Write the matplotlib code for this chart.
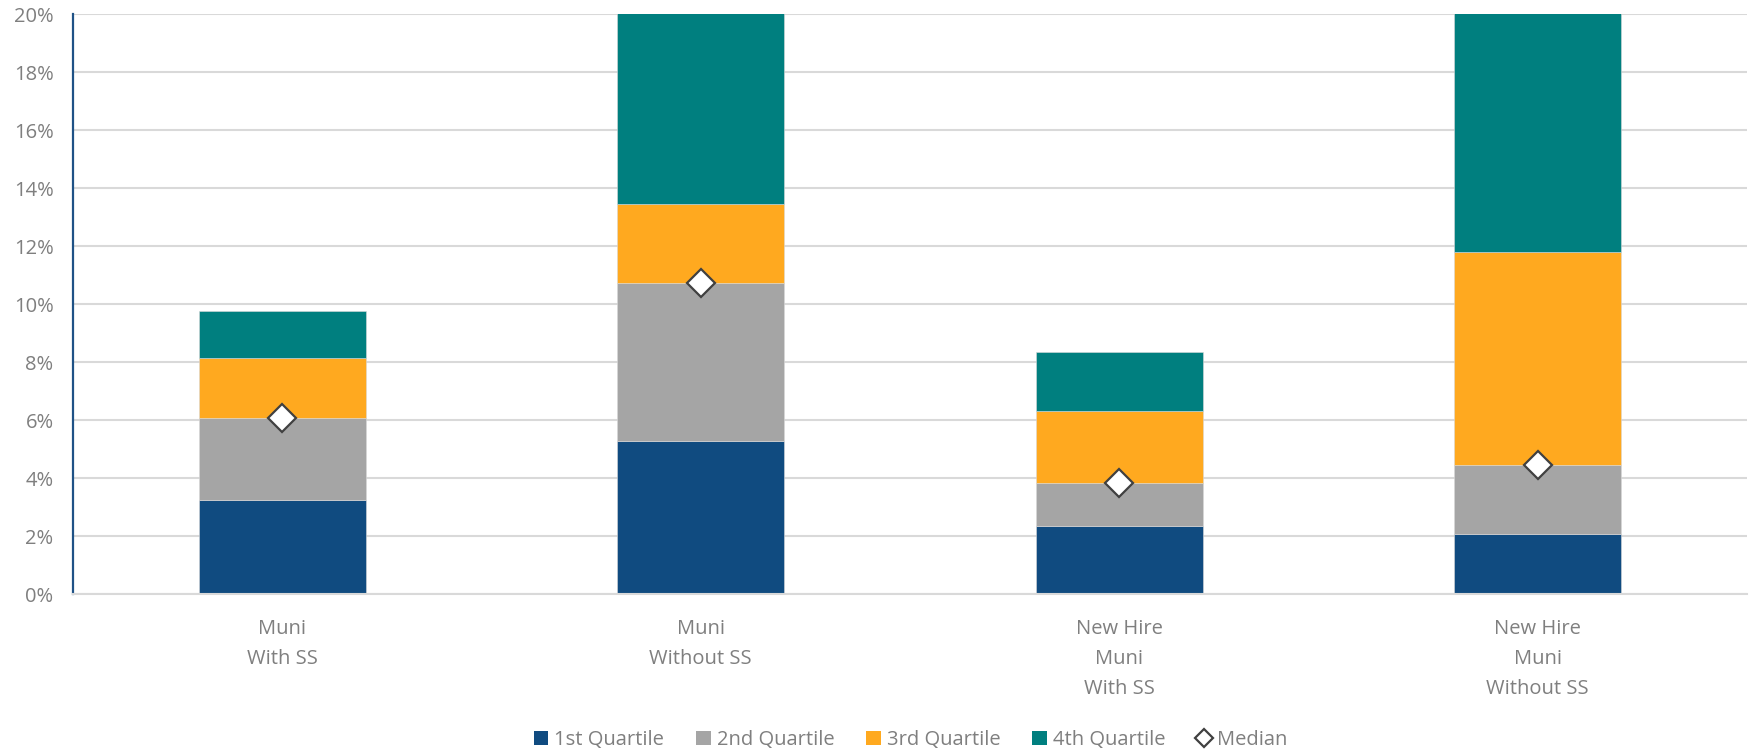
"""
stacked quartile bars with median markers
"""

import numpy as np
import matplotlib
matplotlib.use("Agg")
import matplotlib.pyplot as plt
from matplotlib.patches import Patch
from matplotlib.lines import Line2D

plt.rcParams["font.family"] = ["Open Sans", "DejaVu Sans"]

# data (percent)
# --------------------------
categories = ["Muni\nWith SS", "Muni\nWithout SS", "New Hire\nMuni\nWith SS", "New Hire\nMuni\nWithout SS"]
q1 = [3.25, 5.29, 2.36, 2.07]
q2 = [2.82, 5.42, 1.46, 2.38]
q3 = [2.06, 2.74, 2.50, 7.34]
q4 = [1.63, 8.00, 2.01, 10.00]
median = [6.07, 10.72, 3.82, 4.45]
series_names = ["1st Quartile", "2nd Quartile", "3rd Quartile", "4th Quartile"]
colors = ["#104B80", "#A5A5A5", "#FFA91F", "#007F7F"]
y_ticks = [0, 2, 4, 6, 8, 10, 12, 14, 16, 18, 20]

# plotting
# --------------------------
fig = plt.figure(figsize=(17.52, 7.51), dpi=100)
ax = fig.add_axes([73 / 1752, 1 - 594 / 751, (1747 - 73) / 1752, (594 - 14) / 751])

x = np.arange(len(categories))
bottom = np.zeros(len(categories))
for vals, col in zip([q1, q2, q3, q4], colors):
    ax.bar(x, vals, width=0.4, bottom=bottom, color=col, edgecolor="#D9D9D9",
           linewidth=0.4, zorder=2)
    bottom = bottom + np.array(vals)

ax.plot(x, median, linestyle="none", marker="D", markersize=14, markerfacecolor="white",
        markeredgecolor="#404040", markeredgewidth=1.6, zorder=4, clip_on=False)

ax.set_xlim(-0.5, 3.5)
ax.set_ylim(0, 20)
ax.set_yticks(y_ticks)
ax.set_yticklabels([f"{t}%" for t in y_ticks])
ax.set_xticks(x)
ax.set_xticklabels(categories, linespacing=1.65)

ax.grid(axis="y", color="#D9D9D9", linewidth=1.5, zorder=0)
ax.set_axisbelow(True)
for s in ["top", "right"]:
    ax.spines[s].set_visible(False)
ax.spines["left"].set_color("#1F5286")
ax.spines["left"].set_linewidth(1.6)
ax.spines["bottom"].set_color("#D9D9D9")
ax.spines["bottom"].set_linewidth(1.5)

ax.tick_params(axis="y", length=0, pad=14, labelsize=14.5, labelcolor="#7F7F7F")
ax.tick_params(axis="x", length=0, pad=18, labelsize=14.5, labelcolor="#7F7F7F")

handles = [Patch(facecolor=c, edgecolor="none") for c in colors]
handles.append(Line2D([], [], linestyle="none", marker="D", markersize=9, markerfacecolor="white",
                      markeredgecolor="#404040", markeredgewidth=1.6))
fig.legend(handles, series_names + ["Median"], loc="center", ncol=5, frameon=False,
           bbox_to_anchor=(911 / 1752, 1 - 740 / 751), fontsize=14.5, labelcolor="#7F7F7F",
           handlelength=0.7, handleheight=0.7, handletextpad=0.3, columnspacing=1.6)

fig.savefig("out.png", dpi=100)
